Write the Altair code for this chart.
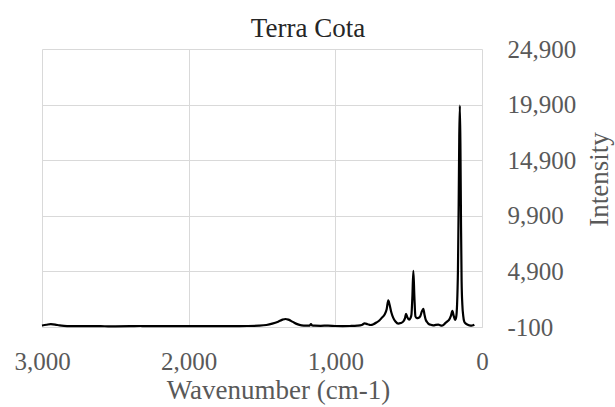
import altair as alt
import pandas as pd

wavenumber = [3000, 2970, 2940, 2910, 2880, 2850, 2800, 2700, 2600, 2500, 2400, 2330, 2300,
              2200, 2100, 2000, 1900, 1800, 1700, 1600, 1520, 1470, 1430, 1390, 1360, 1340,
              1320, 1290, 1260, 1230, 1200, 1175, 1166, 1158, 1140, 1100, 1050, 1000, 950,
              900, 850, 820, 800, 780, 760, 740, 720, 700, 684, 665, 650, 639, 630, 618, 605,
              590, 571, 555, 536, 525, 518, 510, 497, 488, 481, 475, 468, 461, 454, 444, 434,
              420, 410, 400, 392, 384, 375, 366, 350, 332, 315, 298, 285, 275, 262, 252, 238,
              225, 212, 202, 193, 184, 176, 170, 164, 159, 155, 151, 147, 143, 139, 134, 128,
              121, 110, 98, 85, 70, 60, 52]
intensity = [30, 100, 160, 120, 40, 0, -20, -30, -30, -40, -30, -10, -30,
             -30, -30, -30, -30, -30, -20, -10, 20, 80, 200, 380, 560, 620,
             560, 360, 160, 50, 20, 30, 170, 40, 20, 10, 20, -10, -20,
             -10, 20, 80, 220, 150, 80, 150, 300, 480, 720, 1000, 1500, 2300, 1900, 1200, 720,
             400, 200, 250, 410, 700, 1080, 800, 560, 700, 1020, 2500, 4950, 2600, 860, 700, 720,
             900, 1300, 1540, 1000, 560, 350, 200, 100, 50, 90, 110, 60, 20, 100, 230, 380,
             540, 900, 1350, 900, 540, 800, 1900, 5000, 11000, 17000, 19800, 16000, 9000, 4000, 1900, 900,
             380, 200, 110, 40, 20, 60, 110]

x_ticks = [3000, 2000, 1000, 0]
y_ticks = [-100, 4900, 9900, 14900, 19900, 24900]

df = pd.DataFrame({"wn": wavenumber, "I": intensity})

FONT = "Liberation Serif"
GREY = "#595959"
LABEL = "(datum.value < 0 ? '-' : '') + format(abs(datum.value), ',d')"

chart = alt.Chart(df).mark_line(
    color="black", strokeWidth=2.2, interpolate="monotone"
).encode(
    x=alt.X("wn:Q",
            scale=alt.Scale(domain=[3000, 0], nice=False),
            axis=alt.Axis(values=x_ticks, labelExpr=LABEL, title="Wavenumber (cm-1)",
                          grid=True, gridColor="#d9d9d9", domainColor="#d9d9d9",
                          ticks=False, labelPadding=22, labelFontSize=25,
                          labelColor=GREY, labelFont=FONT, titleFont=FONT,
                          titleFontSize=27, titleColor=GREY, titleFontWeight="normal",
                          titleX=236, titleY=71, titleBaseline="alphabetic",
                          titleAlign="center", labelFlush=False)),
    y=alt.Y("I:Q",
            scale=alt.Scale(domain=[-100, 24900], nice=False, zero=False),
            axis=alt.Axis(orient="right", values=y_ticks, labelExpr=LABEL, title="Intensity",
                          grid=True, gridColor="#d9d9d9", domain=False, ticks=False,
                          labelPadding=25, labelFontSize=25, labelColor=GREY,
                          labelFont=FONT, labelAlign="left", labelBaseline="middle",
                          titleFont=FONT, titleFontSize=27, titleColor=GREY,
                          titleFontWeight="normal", titleAngle=270, titleX=117, titleY=130,
                          titleAlign="center", titleBaseline="middle"))
).properties(
    width=440, height=278,
    title=alt.TitleParams("Terra Cota", font=FONT, fontSize=27, color="#262626",
                          fontWeight="normal", anchor="middle", dx=46, offset=-27,
                          baseline="alphabetic"),
    padding={"left": 42, "top": 49, "right": 133, "bottom": 80},
    autosize="none"
).configure_view(stroke=None)

chart.save("out.html", embed_options={"renderer": "svg", "actions": False})
